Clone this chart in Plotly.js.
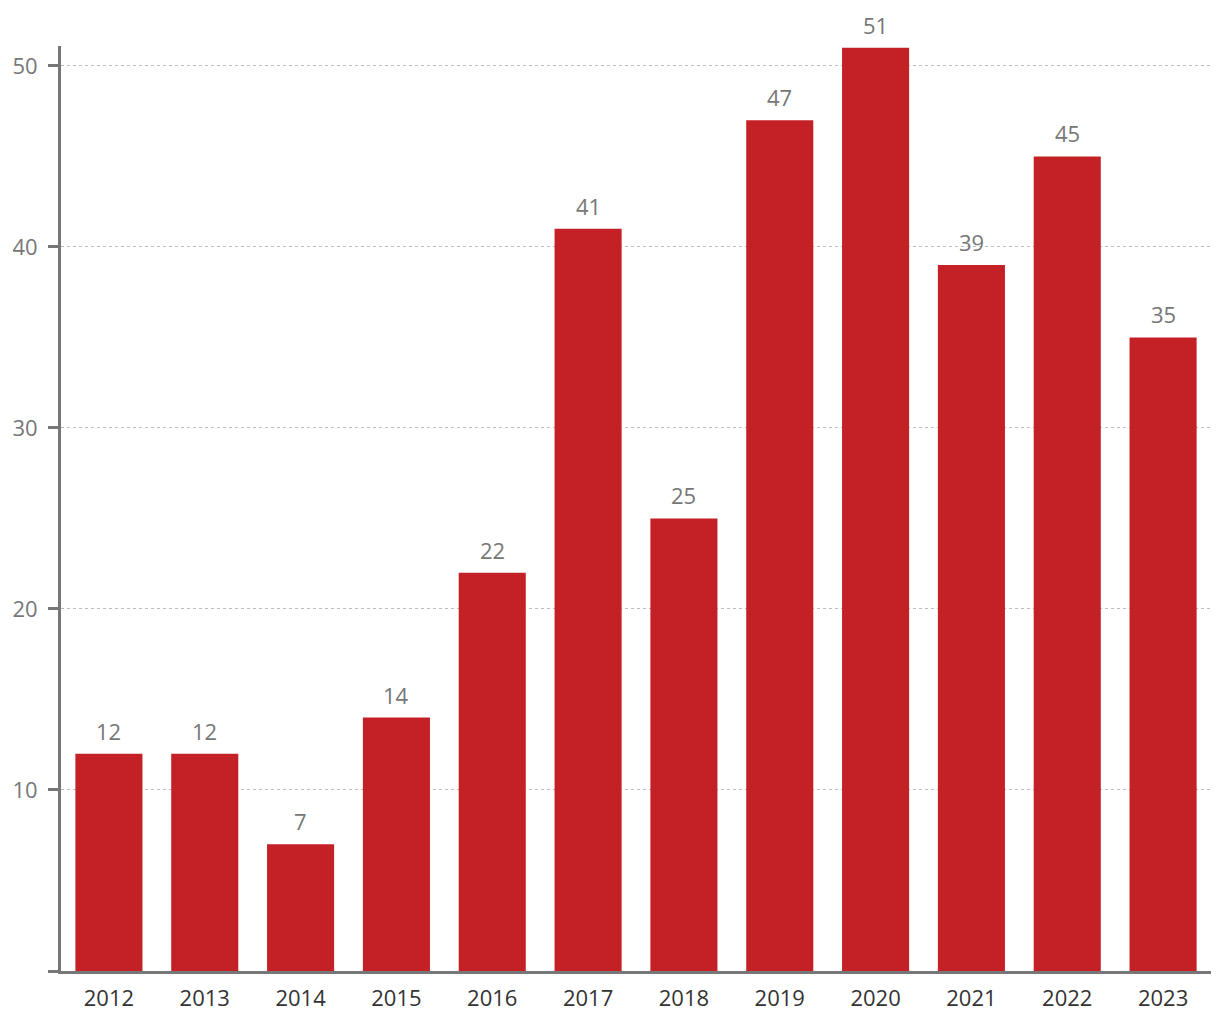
<!DOCTYPE html>
<html>
<head>
<meta charset="utf-8">
<script src="https://cdn.plot.ly/plotly-3.0.1.min.js"></script>
<style>html,body{margin:0;padding:0;background:#fff;}#chart{width:1220px;height:1020px;}</style>
</head>
<body>
<div id="chart"></div>
<script>
const years = ['2012','2013','2014','2015','2016','2017','2018','2019','2020','2021','2022','2023'];
const counts = [12, 12, 7, 14, 22, 41, 25, 47, 51, 39, 45, 35];
const yTickVals = [0, 10, 20, 30, 40, 50];
const yTickText = ['', '10', '20', '30', '40', '50'];

const FONT = '"Open Sans", sans-serif';

// value labels placed on the category axis by category index
const labels = counts.map((v, i) => ({
  x: i,
  y: v,
  xref: 'x',
  yref: 'y',
  text: String(v),
  showarrow: false,
  yanchor: 'bottom',
  yshift: 6,
  font: {family: FONT, size: 22, color: '#777777'}
}));

Plotly.newPlot('chart', [{
  type: 'bar',
  x: years,
  y: counts,
  marker: {color: '#c42127'},
  hoverinfo: 'x+y'
}], {
  width: 1220,
  height: 1020,
  margin: {l: 61, r: 9, t: 46, b: 49},
  paper_bgcolor: '#ffffff',
  plot_bgcolor: '#ffffff',
  bargap: 0.3,
  showlegend: false,
  font: {family: FONT},
  annotations: labels,
  xaxis: {
    type: 'category',
    range: [-0.5, years.length - 0.5],
    showline: true,
    linecolor: '#777777',
    linewidth: 3,
    ticks: '',
    showgrid: false,
    tickfont: {family: FONT, size: 22, color: '#333333'},
    ticklabelstandoff: 6,
    zeroline: false
  },
  yaxis: {
    range: [0, 51.1],
    tickvals: yTickVals,
    ticktext: yTickText,
    showline: true,
    linecolor: '#777777',
    linewidth: 3,
    ticks: 'outside',
    ticklen: 10,
    tickwidth: 3,
    tickcolor: '#777777',
    showgrid: true,
    gridcolor: '#b4bec4',
    griddash: '3px,3px',
    gridwidth: 1,
    zeroline: false,
    tickfont: {family: FONT, size: 22, color: '#777777'},
    ticklabelstandoff: 6
  }
}, {displayModeBar: false, staticPlot: true});
</script>
</body>
</html>
